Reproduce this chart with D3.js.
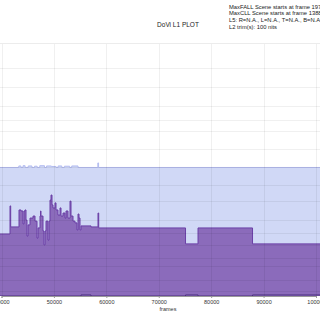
<!DOCTYPE html>
<html>
<head>
<meta charset="utf-8">
<script src="https://cdn.jsdelivr.net/npm/d3@7"></script>
<style>
  body { margin: 0; background: #fff; }
  svg { display: block; font-family: "Liberation Sans", Arial, sans-serif; }
</style>
</head>
<body>
<script>
// frames where each step starts, and the PQ value from there on
var avgFrames = [38000, 41622, 41755, 43339, 43721, 44103, 44293, 44484, 44675, 44866, 45056, 45438,
                 46010, 46392, 46774, 46964, 47346, 47441, 47537, 47918, 48109, 48300, 48491, 48872,
                 49063, 49254, 49445, 49635, 49826, 50208, 50399, 50780, 51162, 51353, 51734, 52116,
                 52307, 52688, 53070, 53261, 53642, 54024, 54406, 54597, 54787, 54978, 55169, 57077,
                 58413, 58546, 75107, 77493, 87891, 102000];
var avgPq = [0.245, 0.356, 0.273, 0.340, 0.336, 0.285, 0.336, 0.340, 0.300, 0.237, 0.281, 0.308,
             0.316, 0.296, 0.229, 0.269, 0.316, 0.336, 0.316, 0.257, 0.202, 0.257, 0.296, 0.221,
             0.296, 0.379, 0.399, 0.360, 0.348, 0.368, 0.340, 0.320, 0.348, 0.316, 0.328, 0.308,
             0.336, 0.308, 0.375, 0.316, 0.296, 0.289, 0.261, 0.324, 0.308, 0.261, 0.277, 0.273,
             0.328, 0.269, 0.206, 0.269, 0.206, 0.206];

var maxFrames = [38000, 43300, 43700, 44100, 44500, 45100, 45800, 46300, 46800, 47300, 48200, 48600,
                 49500, 50400, 50800, 51500, 52000, 53000, 53400, 54600, 58380, 58520, 102000];
var maxPq = [0.508, 0.514, 0.508, 0.515, 0.508, 0.514, 0.508, 0.513, 0.508, 0.515, 0.508, 0.514,
             0.512, 0.508, 0.514, 0.508, 0.513, 0.508, 0.514, 0.508, 0.526, 0.508, 0.508];

var minFrames = [38000, 55169, 57077, 75107, 77493, 87891, 102000];
var minPq = [0, 0.004, 0, 0.004, 0, 0.004, 0.004];

var xTicks = [40000, 50000, 60000, 70000, 80000, 90000, 100000];
var nitTicks = [0.01, 0.1, 0.5, 1, 2.5, 5, 10, 25, 50, 100, 200, 400, 600, 1000, 2000, 4000, 10000];

var infoLines = [
  "MaxFALL Scene starts at frame 197628",
  "MaxCLL Scene starts at frame 138898",
  "L5: R=N.A., L=N.A., T=N.A., B=N.A.",
  "L2 trim(s): 100 nits"
];

function pq(nits) {
  var m1 = 2610 / 16384, m2 = 2523 / 4096 * 128;
  var c1 = 3424 / 4096, c2 = 2413 / 4096 * 32, c3 = 2392 / 4096 * 32;
  var v = Math.pow(nits / 10000, m1);
  return Math.pow((c1 + c2 * v) / (1 + c3 * v), m2);
}

var width = 320, height = 320;
var plotTop = 43, plotBottom = 296;

var svg = d3.select("body").append("svg")
  .attr("width", width)
  .attr("height", height);

var x = d3.scaleLinear().domain([40000, 100000]).range([1.5, 316]);
var y = d3.scaleLinear().domain([0, 1]).range([plotBottom, plotTop]);

svg.append("clipPath").attr("id", "plot")
  .append("rect").attr("x", 0).attr("y", plotTop).attr("width", width).attr("height", plotBottom - plotTop);

function zip(fr, v) { return fr.map(function (f, i) { return [f, v[i]]; }); }

var area = d3.area().curve(d3.curveStepAfter)
  .x(function (d) { return x(d[0]); })
  .y0(y(0))
  .y1(function (d) { return y(d[1]); });
var line = d3.line().curve(d3.curveStepAfter)
  .x(function (d) { return x(d[0]); })
  .y(function (d) { return y(d[1]); });

var g = svg.append("g").attr("clip-path", "url(#plot)");

var maxData = zip(maxFrames, maxPq);
var avgData = zip(avgFrames, avgPq);
var minData = zip(minFrames, minPq);

g.append("path").datum(maxData).attr("d", area).attr("fill", "#d0d8f6");
g.append("path").datum(maxData).attr("d", line).attr("fill", "none")
  .attr("stroke", "#b3bcf0").attr("stroke-width", 1);

g.append("path").datum(avgData).attr("d", area).attr("fill", "#8b6bbb");
g.append("path").datum(avgData).attr("d", line).attr("fill", "none")
  .attr("stroke", "#6a3fa6").attr("stroke-width", 1);

g.append("path").datum(minData).attr("d", line).attr("fill", "none")
  .attr("stroke", "#4b2f7d").attr("stroke-width", 1);

// grid on top, faint
g.selectAll(".hg").data(nitTicks).enter().append("line")
  .attr("x1", 0).attr("x2", width)
  .attr("y1", function (d) { return Math.round(y(pq(d))) + 0.5; })
  .attr("y2", function (d) { return Math.round(y(pq(d))) + 0.5; })
  .attr("stroke", "rgba(0,0,0,0.06)");
g.selectAll(".vg").data(xTicks).enter().append("line")
  .attr("x1", function (d) { return Math.round(x(d)) + 0.5; })
  .attr("x2", function (d) { return Math.round(x(d)) + 0.5; })
  .attr("y1", plotTop).attr("y2", plotBottom)
  .attr("stroke", "rgba(0,0,0,0.06)");

svg.append("line").attr("x1", 0).attr("x2", width)
  .attr("y1", plotTop + 0.5).attr("y2", plotTop + 0.5).attr("stroke", "#ececec");

var xAxis = d3.axisBottom(x).tickValues(xTicks).tickSize(2).tickPadding(2)
  .tickFormat(d3.format("d"));
var ax = svg.append("g").attr("transform", "translate(0," + plotBottom + ")").call(xAxis);
ax.select(".domain").attr("stroke", "#9a9a9a");
ax.selectAll(".tick line").attr("stroke", "#9a9a9a");
ax.selectAll("text").attr("font-size", 5.5).attr("fill", "#333")
  .attr("font-family", "Liberation Sans, Arial, sans-serif");

svg.append("text").attr("x", 168).attr("y", 311).attr("text-anchor", "middle")
  .attr("font-size", 5.5).attr("fill", "#333").text("frames");

svg.append("text").attr("x", 178).attr("y", 27).attr("text-anchor", "middle")
  .attr("font-size", 6.5).attr("fill", "#222").text("DoVi L1 PLOT");

svg.selectAll(".info").data(infoLines).enter().append("text")
  .attr("x", 229)
  .attr("y", function (d, i) { return 8.5 + i * 6.8; })
  .attr("font-size", 5.8).attr("fill", "#222")
  .text(function (d) { return d; });
</script>
</body>
</html>
